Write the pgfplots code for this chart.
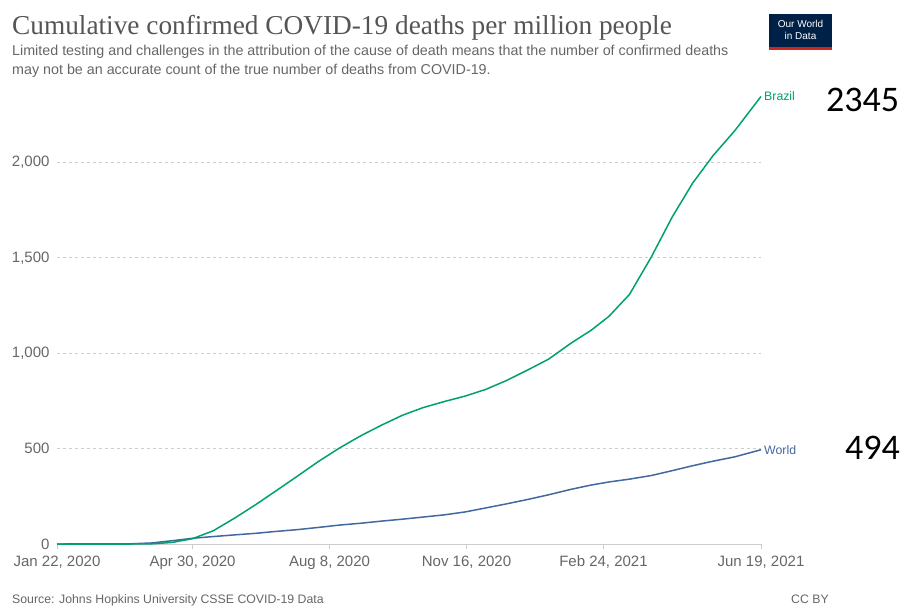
\documentclass[border=0pt]{standalone}
\usepackage{fontspec}
\setmainfont{Liberation Sans}
\newfontfamily\titlefont{Liberation Serif}
\newfontfamily\numfont{Carlito}
\usepackage{pgfplots}
\pgfplotsset{compat=1.18}
\definecolor{brazil}{RGB}{0,160,112}
\definecolor{world}{RGB}{66,104,160}
\definecolor{txtgray}{RGB}{102,102,102}
\definecolor{titlegray}{RGB}{85,85,85}
\definecolor{gridgray}{RGB}{205,205,205}
\definecolor{owidnavy}{RGB}{0,33,71}
\definecolor{owidred}{RGB}{206,38,30}
\begin{document}
\begin{tikzpicture}
\path[use as bounding box] (0,0) rectangle (904pt,-605pt);
% title and subtitle
\node[anchor=base west, inner sep=0, text=titlegray] at (12pt,-34pt) {\titlefont\fontsize{27.3}{30}\selectfont Cumulative confirmed COVID-19 deaths per million people};
\node[anchor=base west, inner sep=0, text=txtgray] at (12pt,-55pt) {\fontsize{14.3}{16}\selectfont Limited testing and challenges in the attribution of the cause of death means that the number of confirmed deaths};
\node[anchor=base west, inner sep=0, text=txtgray] at (12pt,-74pt) {\fontsize{14.3}{16}\selectfont may not be an accurate count of the true number of deaths from COVID-19.};
% logo
\fill[owidnavy] (769pt,-14pt) rectangle (832pt,-50pt);
\fill[owidred] (769pt,-47pt) rectangle (832pt,-50pt);
\node[text=white, inner sep=0] at (800.5pt,-24pt) {\fontsize{10}{11}\selectfont Our World};
\node[text=white, inner sep=0] at (800.5pt,-36pt) {\fontsize{10}{11}\selectfont in Data};
% footer
\node[anchor=base west, inner sep=0, text=txtgray] at (12pt,-603pt) {\fontsize{12.3}{14}\selectfont Source: Johns Hopkins University CSSE COVID-19 Data};
\node[anchor=base east, inner sep=0, text=txtgray] at (829pt,-603pt) {\fontsize{12.3}{14}\selectfont CC BY};
\begin{axis}[
  at={(57pt,-544pt)}, anchor=south west,
  scale only axis, width=704pt, height=448.5pt,
  xmin=0, xmax=514, ymin=0, ymax=2350,
  axis x line*=bottom, axis y line*=left,
  x axis line style={-, draw=gridgray, line width=0.8pt},
  y axis line style={draw=none},
  xtick={0,99,199,299,399,514},
  xticklabels={{Jan 22, 2020},{Apr 30, 2020},{Aug 8, 2020},{Nov 16, 2020},{Feb 24, 2021},{Jun 19, 2021}},
  ytick={0,500,1000,1500,2000},
  tick align=outside, major tick length=5pt,
  xtick style={draw=gridgray, line width=0.8pt},
  ytick style={draw=none},
  ymajorgrids, grid style={draw=gridgray, dashed, line width=0.6pt},
  /pgf/number format/assume math mode=true,
  /pgf/number format/1000 sep={,},
  tick label style={font=\fontsize{15}{17}\selectfont, text=txtgray},
  xticklabel style={yshift=-3pt},
  yticklabel style={xshift=1pt},
  clip=false,
]
\addplot[world, line width=1.5pt] coordinates {
(0,0) (24,0.2) (39,0.4) (53,0.8) (69,5.4) (84,17.2) (99,30) (114,39) (130,48) (145,56) (160,66) (175,75) (191,87) (206,99) (222,109) (237,120) (252,130) (267,141) (283,153) (298,168) (313,189) (328,210) (344,234) (359,258) (375,286) (390,309) (403,325) (418,340) (434,359) (449,384) (464,410) (479,434) (495,457) (514,494)
};
\addplot[brazil, line width=1.5pt] coordinates {
(0,0) (54,0) (69,0.9) (84,8.2) (99,28) (114,69) (130,137) (145,206) (160,279) (175,353) (191,433) (206,502) (222,568) (237,623) (252,674) (267,714) (283,747) (298,775) (313,810) (328,856) (344,913) (359,969) (375,1051) (390,1120) (403,1193) (418,1308) (434,1505) (449,1711) (464,1890) (479,2035) (495,2167) (514,2345)
};
\node[anchor=west, text=brazil, inner sep=3pt] at (axis cs:514,2345) {\fontsize{12.3}{14}\selectfont Brazil};
\node[anchor=west, text=world, inner sep=3pt] at (axis cs:514,494) {\fontsize{12.3}{14}\selectfont World};
\end{axis}
\node[anchor=west, inner sep=0] at (826pt,-100pt) {\numfont\fontsize{36}{40}\selectfont 2345};
\node[anchor=west, inner sep=0] at (845pt,-448pt) {\numfont\fontsize{36}{40}\selectfont 494};
\end{tikzpicture}
\end{document}
